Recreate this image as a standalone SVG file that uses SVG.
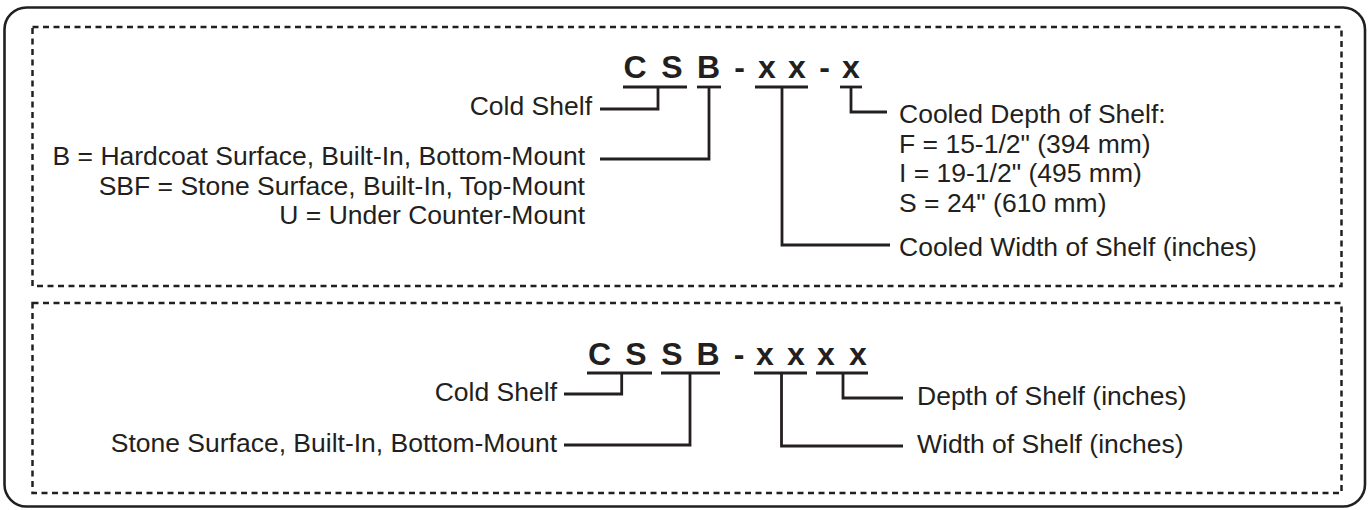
<svg xmlns="http://www.w3.org/2000/svg" width="1369" height="510" viewBox="0 0 1369 510">
<style>
.lbl{font-family:"Liberation Sans",Arial,sans-serif;font-size:26.5px;fill:#231f20}
.end{text-anchor:end}
.code{font-family:"Liberation Sans",Arial,sans-serif;font-size:32px;font-weight:bold;fill:#231f20;text-anchor:middle}
.dot{fill:none;stroke:#231f20;stroke-width:2.5;stroke-dasharray:6 4.5}
.ln{fill:none;stroke:#231f20;stroke-width:2.8;stroke-linejoin:miter;stroke-linecap:butt}
</style>
<rect x="0" y="0" width="1369" height="510" fill="#ffffff"/>
<rect id="frame" x="4.5" y="7.5" width="1360.5" height="499" rx="22" ry="22" fill="none" stroke="#231f20" stroke-width="2.6"/>
<rect id="section-top" class="dot" x="32.5" y="27" width="1309" height="259"/>
<rect id="section-bottom" class="dot" x="32.5" y="303" width="1309" height="190"/>

<g id="code-csb">
<text class="code" x="635" y="78">C</text>
<text class="code" x="672" y="78">S</text>
<text class="code" x="708.5" y="78">B</text>
<text class="code" x="739.5" y="78">-</text>
<text class="code" x="767" y="78">x</text>
<text class="code" x="797" y="78">x</text>
<text class="code" x="824.5" y="78">-</text>
<text class="code" x="851" y="78">x</text>
</g>
<g id="label-cold-shelf-1"><text class="lbl end" x="592" y="115">Cold Shelf</text></g>
<g id="label-mount-options">
<text class="lbl end" x="585" y="165">B = Hardcoat Surface, Built-In, Bottom-Mount</text>
<text class="lbl end" x="585" y="194.5">SBF = Stone Surface, Built-In, Top-Mount</text>
<text class="lbl end" x="585" y="224">U = Under Counter-Mount</text>
</g>
<g id="label-cooled-depth">
<text class="lbl" x="899" y="123">Cooled Depth of Shelf:</text>
<text class="lbl" x="899" y="152.5">F = 15-1/2" (394 mm)</text>
<text class="lbl" x="899" y="182">I = 19-1/2" (495 mm)</text>
<text class="lbl" x="899" y="211.5">S = 24" (610 mm)</text>
</g>
<g id="label-cooled-width"><text class="lbl" x="899" y="256">Cooled Width of Shelf (inches)</text></g>

<g id="code-cssb">
<text class="code" x="599.5" y="365">C</text>
<text class="code" x="636" y="365">S</text>
<text class="code" x="672" y="365">S</text>
<text class="code" x="708" y="365">B</text>
<text class="code" x="739" y="365">-</text>
<text class="code" x="765" y="365">x</text>
<text class="code" x="796" y="365">x</text>
<text class="code" x="826" y="365">x</text>
<text class="code" x="858" y="365">x</text>
</g>
<g id="label-cold-shelf-2"><text class="lbl end" x="557" y="401">Cold Shelf</text></g>
<g id="label-stone-surface"><text class="lbl end" x="557" y="452">Stone Surface, Built-In, Bottom-Mount</text></g>
<g id="label-depth"><text class="lbl" x="917" y="405">Depth of Shelf (inches)</text></g>
<g id="label-width"><text class="lbl" x="917" y="453">Width of Shelf (inches)</text></g>

<g id="connectors">
<path class="ln" d="M623 87H687"/>
<path class="ln" d="M697 87H721"/>
<path class="ln" d="M755 87H808"/>
<path class="ln" d="M840 87H862"/>
<path class="ln" d="M658 87V109H600"/>
<path class="ln" d="M709 87V159H600"/>
<path class="ln" d="M782 87V245H890"/>
<path class="ln" d="M851 87V112H887"/>

<path class="ln" d="M587 373H652"/>
<path class="ln" d="M661 373H720"/>
<path class="ln" d="M754 373H807"/>
<path class="ln" d="M816 373H868"/>
<path class="ln" d="M621.7 373V394H564"/>
<path class="ln" d="M690 373V445H564"/>
<path class="ln" d="M781.5 373V446H903"/>
<path class="ln" d="M843 373V398H903"/>
</g>
</svg>
